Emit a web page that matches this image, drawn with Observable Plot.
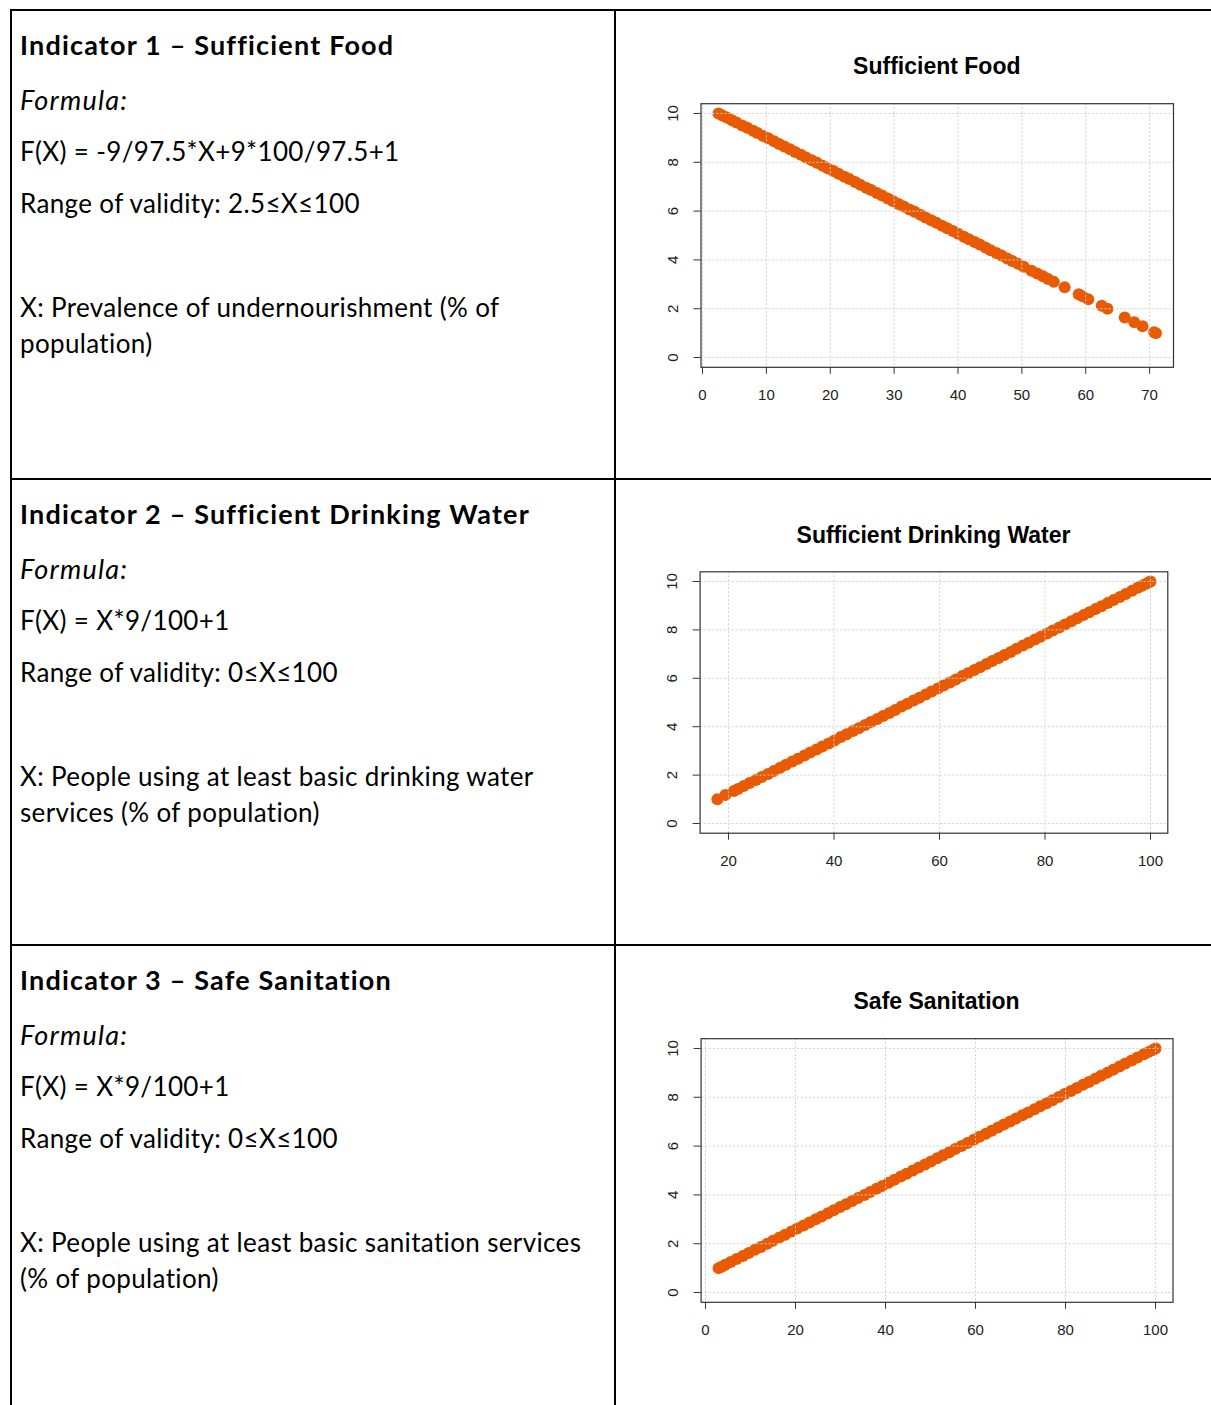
<!DOCTYPE html>
<html><head><meta charset="utf-8">
<script src="https://cdn.jsdelivr.net/npm/d3@7"></script>
<script src="https://cdn.jsdelivr.net/npm/@observablehq/plot@0.6"></script>
<style>
body{margin:0;background:#fff;}
#page{position:relative;width:1211px;height:1405px;overflow:hidden;background:#fff;font-family:Lato,"Open Sans",sans-serif;color:#000;}
.ln{position:absolute;background:#000;}
.t{position:absolute;left:20px;white-space:nowrap;font-size:26px;line-height:36px;letter-spacing:0.35px;}
.b{font-weight:bold;font-size:27px;letter-spacing:1.18px;}
.i{font-style:italic;font-size:27px;letter-spacing:1.2px;}
.ct{position:absolute;font-family:"Liberation Sans",Arial,sans-serif;font-weight:bold;font-size:23px;line-height:28px;transform:translateX(-50%);white-space:nowrap;color:#000;}
.chart{position:absolute;left:616px;}
</style></head><body><div id="page"></div>
<script>
// ---------- data ----------
const foodX = [2.5,3.1,3.8,4.6,5.3,6.2,7.0,7.9,8.6,9.5,10.3,11.2,12.0,12.8,13.7,14.5,15.4,16.2,17.1,17.9,18.8,19.6,20.5,21.3,22.2,23.0,23.9,24.7,25.6,26.4,27.3,28.1,29.0,29.8,30.7,31.5,32.4,33.2,34.1,34.9,35.8,36.6,37.5,38.3,39.2,40.0,40.9,41.7,42.6,43.4,44.3,45.1,46.0,46.8,47.7,48.5,49.4,50.3,51.5,52.4,53.3,54.1,55.0,56.7,58.9,59.5,60.4,62.5,63.4,66.1,67.6,68.9,70.7,71.0];
const foodY = [10.00,9.92,9.83,9.72,9.63,9.51,9.41,9.29,9.20,9.08,8.98,8.86,8.75,8.65,8.53,8.42,8.31,8.20,8.08,7.98,7.86,7.75,7.64,7.53,7.41,7.31,7.19,7.08,6.96,6.86,6.74,6.64,6.52,6.41,6.29,6.19,6.07,5.97,5.85,5.74,5.62,5.52,5.40,5.30,5.18,5.07,4.95,4.85,4.73,4.63,4.51,4.40,4.28,4.18,4.06,3.96,3.84,3.72,3.56,3.44,3.33,3.22,3.10,2.88,2.59,2.51,2.39,2.12,2.00,1.64,1.45,1.28,1.04,1.00];

const waterX = [17.9,19.4,21.0,21.8,22.9,24.0,25.2,26.3,27.5,28.6,29.8,30.9,32.1,33.2,34.4,35.5,36.7,37.8,39.0,40.1,41.3,42.4,43.6,44.7,45.9,47.0,48.2,49.3,50.5,51.6,52.8,53.9,55.1,56.2,57.4,58.5,59.7,60.8,62.0,63.1,64.3,65.4,66.6,67.7,68.9,70.0,71.2,72.3,73.5,74.6,75.8,76.9,78.1,79.2,80.4,81.5,82.7,83.8,85.0,86.1,87.3,88.4,89.6,90.7,91.9,93.0,94.2,95.3,96.5,97.6,98.4,99.2,99.7,100.0];
const waterY = [1.00,1.18,1.34,1.43,1.55,1.67,1.80,1.92,2.05,2.17,2.30,2.43,2.56,2.68,2.81,2.93,3.06,3.18,3.31,3.43,3.57,3.69,3.82,3.94,4.07,4.19,4.32,4.44,4.57,4.69,4.83,4.95,5.08,5.20,5.33,5.45,5.58,5.70,5.83,5.95,6.09,6.21,6.34,6.46,6.59,6.71,6.84,6.96,7.09,7.22,7.35,7.47,7.60,7.72,7.85,7.97,8.10,8.22,8.36,8.48,8.61,8.73,8.86,8.98,9.11,9.23,9.36,9.48,9.62,9.74,9.82,9.91,9.97,10.00];

const sanX = [2.9,3.6,4.4,5.6,6.9,8.3,9.6,11.0,12.3,13.7,15.0,16.4,17.7,19.1,20.4,21.8,23.1,24.5,25.8,27.2,28.5,29.9,31.2,32.6,33.9,35.3,36.6,38.0,39.3,40.7,42.0,43.4,44.7,46.1,47.4,48.8,50.1,51.5,52.8,54.2,55.5,56.9,58.2,59.6,60.9,62.3,63.6,65.0,66.3,67.7,69.0,70.4,71.7,73.1,74.4,75.8,77.1,78.5,79.8,81.2,82.5,83.9,85.2,86.6,87.9,89.3,90.6,92.0,93.3,94.7,96.0,97.4,98.5,99.4,100.0];
const sanY = [1.00,1.06,1.14,1.25,1.37,1.50,1.62,1.75,1.87,2.00,2.12,2.25,2.37,2.50,2.62,2.75,2.87,3.00,3.12,3.25,3.37,3.50,3.62,3.75,3.87,4.00,4.12,4.25,4.37,4.50,4.62,4.75,4.87,5.00,5.12,5.25,5.37,5.50,5.62,5.75,5.88,6.00,6.13,6.26,6.38,6.51,6.63,6.76,6.88,7.01,7.13,7.26,7.38,7.51,7.63,7.76,7.88,8.01,8.13,8.26,8.38,8.51,8.63,8.76,8.88,9.01,9.13,9.26,9.38,9.51,9.63,9.76,9.86,9.94,10.00];

const foodXTicks = [0,10,20,30,40,50,60,70];
const waterXTicks = [20,40,60,80,100];
const sanXTicks = [0,20,40,60,80,100];
const yTicks = [0,2,4,6,8,10];

const chartTitles = ["Sufficient Food","Sufficient Drinking Water","Safe Sanitation"];
const indicatorTitles = ["Indicator 1 – Sufficient Food","Indicator 2 – Sufficient Drinking Water","Indicator 3 – Safe Sanitation"];
const formulaLabel = "Formula:";
const formulas = ["F(X) = -9/97.5*X+9*100/97.5+1","F(X) = X*9/100+1","F(X) = X*9/100+1"];
const ranges = ["Range of validity: 2.5≤X≤100","Range of validity: 0≤X≤100","Range of validity: 0≤X≤100"];
const descriptions = [
  ["X: Prevalence of undernourishment (% of","population)"],
  ["X: People using at least basic drinking water","services (% of population)"],
  ["X: People using at least basic sanitation services","(% of population)"]
];

// ---------- layout ----------
const page = document.getElementById("page");
const rowTops = [9, 478, 944];
const lineCenters = [37, 91.5, 143, 195, 298.5, 334.5];

function addLine(x, y, w, h){
  const d = document.createElement("div");
  d.className = "ln";
  Object.assign(d.style,{left:x+"px",top:y+"px",width:w+"px",height:h+"px"});
  page.appendChild(d);
}
addLine(10, 8.5, 1201, 2);
addLine(9.5, 8.5, 2, 1400);
addLine(613.5, 8.5, 2, 1400);
addLine(10, 477.5, 1201, 2);
addLine(10, 943.5, 1201, 2);

function addText(txt, cls, center){
  const d = document.createElement("div");
  d.className = "t " + cls;
  d.textContent = txt;
  d.style.top = (center - 18.7) + "px";
  page.appendChild(d);
}
rowTops.forEach((top, i) => {
  addText(indicatorTitles[i], "b", top + lineCenters[0]);
  addText(formulaLabel, "i", top + lineCenters[1]);
  addText(formulas[i], "", top + lineCenters[2]);
  addText(ranges[i], "", top + lineCenters[3]);
  addText(descriptions[i][0], "", top + lineCenters[4]);
  addText(descriptions[i][1], "", top + lineCenters[5]);
});

const specs = [
  {xs: foodX, ys: foodY, xDomain: [-0.24, 73.74], xTicks: foodXTicks, top: 85, mt: 18.2, mb: 58.2, ml: 84.5, mr: 33, titleX: 936.8, titleY: 66},
  {xs: waterX, ys: waterY, xDomain: [14.62, 103.28], xTicks: waterXTicks, top: 555, mt: 16.3, mb: 62.3, ml: 83.6, mr: 38.7, titleX: 933.5, titleY: 535},
  {xs: sanX, ys: sanY, xDomain: [-0.98, 103.88], xTicks: sanXTicks, top: 1020, mt: 18.2, mb: 58.2, ml: 84.6, mr: 33.5, titleX: 936.6, titleY: 1001}
];

const orange = "#e85a04";
specs.forEach((s, i) => {
  const t = document.createElement("div");
  t.className = "ct";
  t.textContent = chartTitles[i];
  t.style.left = s.titleX + "px";
  t.style.top = (s.titleY - 13.7) + "px";
  page.appendChild(t);

  const data = s.xs.map((x, k) => ({x, y: s.ys[k]}));
  const plot = Plot.plot({
    width: 590, height: 340,
    marginTop: s.mt, marginBottom: s.mb, marginLeft: s.ml, marginRight: s.mr,
    x: {domain: s.xDomain},
    y: {domain: [-0.4, 10.4]},
    style: {fontFamily: "'Liberation Sans', Arial, sans-serif", fontSize: "15px", color: "#222", background: "white", overflow: "visible"},
    marks: [
      Plot.dot(data, {x: "x", y: "y", r: 6, fill: orange, stroke: "none"}),
      Plot.ruleX(s.xTicks, {x: d => d, stroke: "#cfcfcf", strokeDasharray: "2,2"}),
      Plot.ruleY(yTicks, {y: d => d, stroke: "#cfcfcf", strokeDasharray: "2,2"}),
      Plot.frame({stroke: "#333", strokeWidth: 1.2}),
      Plot.axisX({ticks: s.xTicks, tickSize: 7, tickPadding: 15, label: null, stroke: "#333", fill: "#222", fontSize: 15}),
      Plot.axisY({ticks: yTicks, tickSize: 7, label: null, fill: "none", stroke: "#333"}),
      Plot.text(yTicks, {y: d => d, text: d => String(d), frameAnchor: "left", dx: -28, rotate: -90, textAnchor: "middle", lineAnchor: "middle", fill: "#222", fontSize: 15})
    ]
  });
  const wrap = document.createElement("div");
  wrap.className = "chart";
  wrap.style.top = s.top + "px";
  wrap.appendChild(plot);
  page.appendChild(wrap);
});
</script>
</body></html>
